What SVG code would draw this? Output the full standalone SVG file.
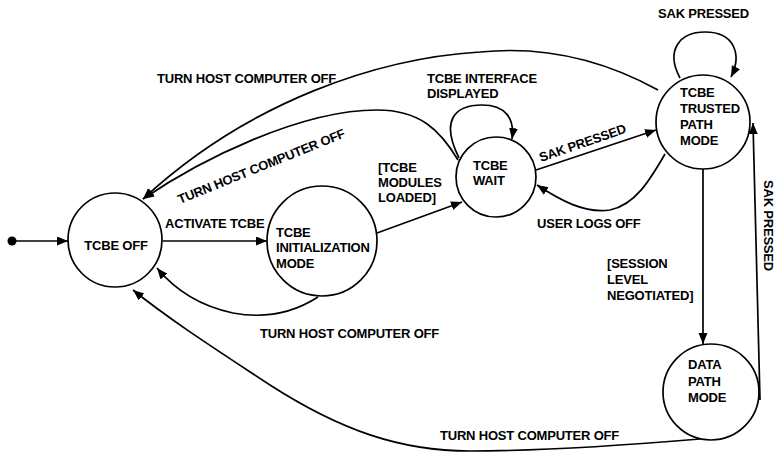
<svg xmlns="http://www.w3.org/2000/svg" width="777" height="454" viewBox="0 0 777 454">
  <defs>
    <marker id="arrow" markerUnits="userSpaceOnUse" markerWidth="12" markerHeight="10" refX="11" refY="4.5" orient="auto">
      <path d="M0,0 L11,4.5 L0,9 z" fill="#000"/>
    </marker>
    <style>
      .node circle { fill: #fff; stroke: #000; stroke-width: 1.7; }
      text { font-family: "Liberation Sans", Arial, sans-serif; font-weight: bold; font-size: 13px; fill: #000; letter-spacing: -0.2px; }
      .edge { fill: none; stroke: #000; stroke-width: 1.7; marker-end: url(#arrow); }
    </style>
  </defs>
  <rect width="777" height="454" fill="#fff"/>

  <!-- transitions -->
  <g id="connectors">
    <circle cx="12" cy="241" r="4.5" fill="#000"/>
    <path class="edge" d="M12,241 L68,241"/>
    <path class="edge" d="M163,241 L267,241"/>
    <path class="edge" d="M377,233 L462,202"/>
    <path class="edge" d="M318,297 C290,315 260,318 233,313 C200,306 175,290 157,268"/>
    <path class="edge" d="M700,439 C640,444 540,451 470,451 C400,451 340,430 270,385 C220,352 170,320 133,290"/>
    <path class="edge" d="M658,90 C600,58 540,46 480,52 C380,58 250,100 143,199"/>
    <path class="edge" d="M458,160 C440,130 420,110 377,110 C300,110 200,160 143,199"/>
    <path class="edge" d="M459,158 C440,120 455,105 482,105 C505,105 515,118 512,139"/>
    <path class="edge" d="M680,78 C665,50 680,32 705,32 C735,32 742,55 731,77"/>
    <path class="edge" d="M536,170 L656,130"/>
    <path class="edge" d="M665,154 C650,180 635,205 610,210 C585,214 560,200 537,185"/>
    <path class="edge" d="M703,169 L703,344"/>
    <path class="edge" d="M760,400 L753,123"/>

    <text x="165" y="228">ACTIVATE TCBE</text>
    <text x="378" y="172">[TCBE</text>
    <text x="378" y="187">MODULES</text>
    <text x="378" y="202">LOADED]</text>
    <text x="260" y="338">TURN HOST COMPUTER OFF</text>
    <text x="440" y="440">TURN HOST COMPUTER OFF</text>
    <text x="157" y="83">TURN HOST COMPUTER OFF</text>
    <text transform="translate(180,204) rotate(-22)">TURN HOST COMPUTER OFF</text>
    <text x="427" y="83">TCBE INTERFACE</text>
    <text x="427" y="98">DISPLAYED</text>
    <text transform="translate(541,162) rotate(-19)">SAK PRESSED</text>
    <text x="537" y="228">USER LOGS OFF</text>
    <text x="658" y="18">SAK PRESSED</text>
    <text x="607" y="268">[SESSION</text>
    <text x="607" y="284">LEVEL</text>
    <text x="607" y="300">NEGOTIATED]</text>
    <text transform="translate(764,180) rotate(90)">SAK PRESSED</text>
  </g>

  <!-- states -->
  <g id="tcbe-off" class="node">
    <circle cx="115" cy="240" r="47"/>
    <text x="116" y="250" text-anchor="middle">TCBE OFF</text>
  </g>
  <g id="tcbe-init" class="node">
    <circle cx="322" cy="241" r="55"/>
    <text x="276" y="237">TCBE</text>
    <text x="276" y="252">INITIALIZATION</text>
    <text x="276" y="268">MODE</text>
  </g>
  <g id="tcbe-wait" class="node">
    <circle cx="496" cy="177" r="40"/>
    <text x="473" y="170">TCBE</text>
    <text x="473" y="185">WAIT</text>
  </g>
  <g id="tcbe-trusted" class="node">
    <circle cx="703" cy="122" r="47"/>
    <text x="680" y="97">TCBE</text>
    <text x="680" y="113">TRUSTED</text>
    <text x="680" y="129">PATH</text>
    <text x="680" y="145">MODE</text>
  </g>
  <g id="data-path" class="node">
    <circle cx="711" cy="392" r="48"/>
    <text x="688" y="369">DATA</text>
    <text x="688" y="386">PATH</text>
    <text x="688" y="402">MODE</text>
  </g>
</svg>
